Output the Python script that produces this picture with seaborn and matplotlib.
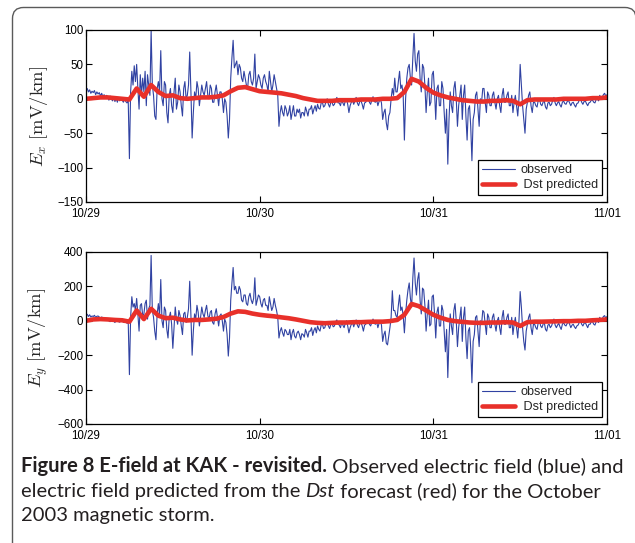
import numpy as np
import pandas as pd
import matplotlib
matplotlib.use("Agg")
import matplotlib.pyplot as plt
import seaborn as sns
from matplotlib.patches import FancyBboxPatch
from matplotlib.transforms import IdentityTransform

# ---------------- data ----------------
day_ticks = [0, 24, 48, 72]          # hours since 10/29 00:00
day_labels = ["10/29", "10/30", "10/31", "11/01"]

# observed Ex [mV/km], 10-minute samples (6 per hour)
ex_obs = [
    12, 15, 10, 13, 8, 11,      9, 12, 6, 10, 7, 9,        4, 8, 3, 6, 2, 5,
    3, -2, 4, 0, -3, 2,         -4, 1, -5, 2, -3, 0,       -2, -5, 1, -4, -6, -2,
    -87, 10, 40, 20, 48, 25,    50, 15, -15, 35, 5, 30,    10, 40, -10, 35, 20, 5,
    100, 20, 5, -25, -30, 15,   25, 10, 70, 0, -10, 25,    20, -20, -35, 5, 15, -10,
    -20, 10, 30, -15, -5, 20,   10, -10, -25, 15, 25, 0,   5, 20, 68, 10, -57, -20,
    10, 0, 25, 15, -10, 5,      20, 10, 5, 15, 25, 5,      0, 20, 15, -5, -5, 10,
    20, 5, -10, 10, 10, 0,      -20, 0, -5, -25, -57, -30, 30, 60, 85, 45, 50, 55,
    35, 50, 45, 30, 25, 40,     30, 20, 15, 35, 40, 25,    20, 30, 65, 15, 25, 35,
    30, 20, 15, 30, 35, 25,     20, 10, 40, 25, 10, 20,    35, 25, 15, 5, -40, -20,
    -10, -20, -25, -10, -15, -25, -20, -10, -30, -20, -10, -25, -25, -15, -20, -15, -28, -20,
    -20, -25, -12, -18, -25, -15, -15, -10, -22, -15, -10, -18, -8, -14, -15, -6, -5, -12,
    -10, -4, 0, -8, -12, -5,    -5, -10, -8, -2, 2, -6,    -6, -10, -2, -6, -10, -3,
    0, -8, -20, -10, -5, -2,    -8, -3, 2, -6, -10, -4,    -3, -8, -15, -6, -5, 0,
    0, -5, -8, -2, 3, -4,       -5, -1, -10, -4, 0, -6,    -30, -20, -15, -35, -45, -25,
    -20, 0, 15, 5, 30, 10,      10, 25, 40, 15, 20, 5,     -60, 0, 30, 45, 50, 30,
    20, 60, 95, 55, 40, 65,     70, 30, 10, 50, 45, 20,    -20, 10, 30, -10, -5, 35,
    40, 10, -30, 15, 20, -10,   -10, 25, 15, -20, -50, -15, -95, -30, 10, -10, -20, 15,
    25, 0, -40, -10, 5, 20,     -30, 5, 20, -25, -60, -15, -10, -40, -90, -30, -20, 5,
    10, -15, -40, 0, -5, 15,    15, -5, -20, 10, 5, -10,   -10, 5, 10, -5, -15, 0,
    5, -10, -20, 5, 15, -5,     -5, 5, 10, -10, -10, 5,    -20, -5, 5, -10, -25, 0,
    50, 20, -10, -30, -50, -15, -5, 5, 10, -10, -20, -5,   -5, -10, -12, -2, 0, -8,
    -10, -5, -3, -12, -15, -6,  -5, -10, -8, -2, 2, -6,    -10, -6, -4, -9, -12, -5,
    -3, -7, -8, -4, -2, -6,     -10, -6, -5, -9, -12, -7,  -6, -2, 0, -5, -8, -4,
    -3, -7, -10, -6, -5, -2,    -2, -5, -6, -1, 0, -3,     5, 0, 2, 6, 8, 4,
    6,
]

# observed Ey [mV/km], 10-minute samples (6 per hour)
ey_obs = [
    30, 38, 25, 35, 22, 28,     25, 32, 20, 26, 28, 22,    15, 22, 18, 10, 8, 14,
    12, 0, -5, 8, 5, -2,        -10, 5, 10, -5, -8, 2,     0, -8, -10, 5, -15, -5,
    -313, 20, 140, 80, 100, 60, 130, 40, -60, 90, 100, 30, 40, 100, 120, 10, 70, 90,
    380, 60, 20, -60, -110, 40, 100, 30, 240, 0, -40, 80,  60, -50, -100, 20, 50, -20,
    -160, -40, 80, 10, -20, 60, 30, -30, -80, 40, 50, -10, 20, 70, 230, 30, -200, -60,
    40, 10, 90, 50, -30, 20,    80, 40, 20, 60, 90, 30,    10, 50, 60, -10, -20, 40,
    70, 20, -30, 30, 40, 0,     -60, 10, -10, -80, -205, -100, 120, 220, 310, 180, 200, 160,
    160, 200, 180, 120, 110, 150, 150, 100, 90, 140, 160, 120, 100, 130, 250, 90, 120, 150,
    140, 100, 80, 120, 130, 90, 90, 60, 140, 100, 60, 80,  130, 90, 60, 20, -100, -60,
    -40, -70, -90, -50, -60, -80, -80, -50, -110, -70, -50, -90, -100, -70, -60, -80, -110, -75,
    -80, -95, -50, -70, -95, -60, -60, -40, -85, -55, -40, -70, -30, -50, -60, -25, -20, -45,
    -40, -15, -5, -30, -45, -20, -15, -35, -30, -5, 5, -20, -25, -40, -10, -25, -40, -15,
    0, -30, -70, -40, -20, -10, -35, -10, 5, -25, -40, -15, -10, -30, -60, -25, -20, 0,
    0, -20, -30, -10, 10, -15,  -20, -5, -40, -15, 0, -25, -120, -80, -60, -130, -140, -90,
    -40, 20, 175, 60, 60, 30,   20, 90, 150, 60, 80, 30,   -70, 40, 120, 180, 220, 130,
    80, 250, 365, 220, 150, 240, 280, 120, 40, 190, 180, 90, -60, 40, 120, -30, -20, 140,
    150, 40, -100, 50, 80, -30, -30, 90, 60, -60, -180, -50, -330, -100, 40, -30, -80, 60,
    100, 0, -150, -40, 20, 80,  -120, 20, 80, -100, -220, -60, -40, -160, -360, -120, -80, 20,
    30, -60, -150, 0, -20, 60,  50, -20, -80, 40, 20, -40, -40, 20, 40, -20, -60, 0,
    20, -40, -80, 20, 60, -20,  -20, 20, 40, -40, -40, 20, -80, -20, 20, -40, -100, 0,
    170, 80, -40, -120, -170, -60, -20, 20, 40, -40, -80, -20, -20, -40, -50, -10, 0, -30,
    -40, -20, -10, -50, -60, -25, -20, -40, -30, -10, 10, -25, -40, -25, -15, -35, -50, -20,
    -10, -25, -30, -15, -5, -20, -40, -25, -20, -35, -45, -30, -25, -10, 0, -20, -30, -15,
    -10, -25, -40, -20, -20, -5, -5, -20, -25, -5, 0, -10,  20, 5, 10, 25, 30, 15,
    25,
]

# Dst-predicted Ex / Ey [mV/km], hourly samples
ex_dst = [0, 1, 2, 2, 1, 0, -1, 15, 3, 20, 10, 4, 5, 1, 0, 1, 2, 2, 3, 5,
          11, 16, 17, 14, 11, 10, 9, 8, 6, 4, 1, -1, -3, -3, -3, -2, -2, -2, -1, -1,
          -1, 0, 0, 1, 10, 29, 25, 16, 9, 5, 2, 0, -2, -3, -4, -4, -3, -3, -2, -3,
          -8, -2, -1, -1, -1, -1, 0, 0, 0, 0, 1, 1, 2]
ey_dst = [0, 8, 10, 8, 5, 3, -5, 60, 10, 70, 30, 15, 18, 8, 2, 5, 5, 8, 12, 22,
          42, 55, 52, 42, 35, 30, 26, 20, 15, 8, 0, -8, -12, -14, -12, -10, -10, -8, -8, -6,
          -5, -5, -2, 5, 35, 98, 85, 60, 35, 18, 5, -2, -6, -10, -12, -12, -10, -10, -8, -10,
          -30, -8, -5, -5, -4, -3, -2, -2, 0, 0, 3, 5, 8]

t_obs = np.arange(len(ex_obs)) / 6.0
t_dst = np.arange(len(ex_dst), dtype=float)

obs_df = pd.DataFrame({"hours": t_obs, "Ex": ex_obs, "Ey": ey_obs})
dst_df = pd.DataFrame({"hours": t_dst, "Ex": ex_dst, "Ey": ey_dst})

# ---------------- style ----------------
sns.set_theme(style="ticks")
plt.rcParams["font.family"] = ["Liberation Sans", "DejaVu Sans"]
plt.rcParams["mathtext.fontset"] = "cm"
plt.rcParams["axes.unicode_minus"] = True

BLUE = "#3042A2"
RED = "#E8302A"
W, H = 635, 543

fig = plt.figure(figsize=(W / 100, H / 100), dpi=100)
fig.patch.set_facecolor("white")

# rounded frame around the figure
frame = FancyBboxPatch((12.5, -30), 623.5, 535.5 + 30, boxstyle="round,pad=0,rounding_size=11",
                       transform=IdentityTransform(), facecolor="none",
                       edgecolor="#5a5a5a", linewidth=1.0)
fig.add_artist(frame)

specs = [
    ("Ex", 202, (-150, 100), [-150, -100, -50, 0, 50, 100], r"$E_x\ [\mathrm{mV/km}]$"),
    ("Ey", 424, (-600, 400), [-600, -400, -200, 0, 200, 400], r"$E_y\ [\mathrm{mV/km}]$"),
]

for col, bottom_px, ylim, yticks, ylabel in specs:
    ax = fig.add_axes([86 / W, 1 - bottom_px / H, 521 / W, 172 / H])
    sns.lineplot(data=obs_df, x="hours", y=col, ax=ax, color=BLUE, linewidth=0.8,
                 label="observed")
    sns.lineplot(data=dst_df, x="hours", y=col, ax=ax, color=RED, linewidth=3.3,
                 label=" Dst predicted")
    ax.set_xlim(0, 72)
    ax.set_ylim(*ylim)
    ax.set_xticks(day_ticks)
    ax.set_xticklabels(day_labels)
    ax.set_yticks(yticks)
    ax.set_xlabel("")
    ax.set_ylabel(ylabel, fontsize=13.3)
    ax.yaxis.set_label_coords((50 - 86) / 521, 0.5)
    ax.tick_params(direction="in", top=True, right=True, length=4, width=0.8,
                   labelsize=8.3, colors="black")
    ax.tick_params(axis="x", pad=4.5)
    ax.tick_params(axis="y", pad=2)
    for s in ax.spines.values():
        s.set_visible(True)
        s.set_color("black")
        s.set_linewidth(0.9)
    leg = ax.legend(loc="lower right", bbox_to_anchor=(1 - 5 / 521, 7 / 172),
                    borderaxespad=0, fontsize=9.1, frameon=True, fancybox=False,
                    edgecolor="black", framealpha=1, handlelength=2.6,
                    handletextpad=0.4, borderpad=0.3, labelspacing=0.25)
    leg.get_frame().set_linewidth(0.9)

# ---------------- caption ----------------
renderer = fig.canvas.get_renderer()
cap_font = ["Lato", "DejaVu Sans"]
cap_color = "#231f20"

lines = [
    [("Figure 8 E-field at KAK - revisited.", "bold", "normal"),
     (" Observed electric field (blue) and", "normal", "normal")],
    [("electric field predicted from the ", "normal", "normal"),
     ("Dst", "normal", "italic"),
     (" forecast (red) for the October", "normal", "normal")],
    [("2003 magnetic storm.", "normal", "normal")],
]


def draw_line(parts, x0, y_base, size):
    x = x0
    arts = []
    for txt, weight, style in parts:
        t = fig.text(x / W, 1 - y_base / H, txt, fontsize=size, fontweight=weight,
                     fontstyle=style, family=cap_font, color=cap_color,
                     ha="left", va="baseline")
        bb = t.get_window_extent(renderer)
        x = bb.x1
        arts.append(t)
    return x, arts


# calibrate font size so the first line spans the same width as the reference
x_end, arts = draw_line(lines[0], 21, 472, 12)
width12 = x_end - 21
for a in arts:
    a.remove()
size = 12 * (599 / width12)

for parts, yb in zip(lines, [472, 497, 521]):
    draw_line(parts, 21, yb, size)

fig.savefig("out.png", dpi=100)
